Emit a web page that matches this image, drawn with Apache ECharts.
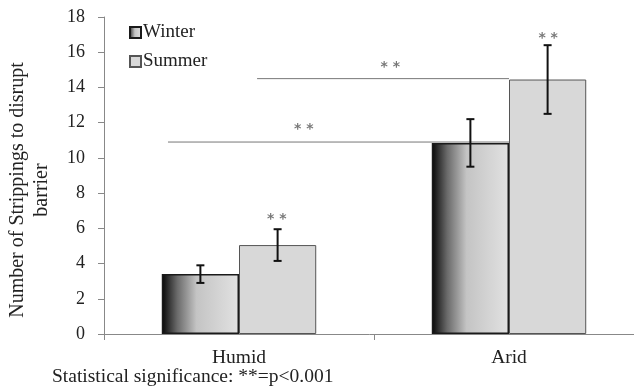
<!DOCTYPE html>
<html>
<head>
<meta charset="utf-8">
<script src="https://cdn.jsdelivr.net/npm/echarts@6/dist/echarts.min.js"></script>
<style>
  html, body { margin: 0; padding: 0; background: #fff; }
  #chart { width: 634px; height: 389px; }
</style>
</head>
<body>
<div id="chart"></div>
<script>
var categories = ["Humid", "Arid"];
var winter = [3.4, 10.85];
var summer = [5.05, 14.45];
var winterErr = [0.5, 1.35];
var summerErr = [0.9, 1.95];
// significance brackets on a hidden 0..2 x scale: [xStart, xEnd, y]
var sigLines = [[0.237, 1.5, 10.9], [0.567, 1.5, 14.5]];
// "**" marks: [x, y]
var stars = [[0.64, 6.5], [1.645, 16.8], [0.74, 11.6], [1.06, 15.15]];

var serif = "Liberation Serif";
var winterFill = {
  type: "linear", x: 0, y: 0, x2: 1, y2: 0,
  colorStops: [
    { offset: 0, color: "#050505" },
    { offset: 0.2, color: "#6a6a6a" },
    { offset: 0.45, color: "#c4c4c4" },
    { offset: 1, color: "#e2e2e2" }
  ]
};

var chart = echarts.init(document.getElementById("chart"));

function errBars(vals, errs, side) {
  return {
    type: "custom",
    xAxisIndex: 0,
    yAxisIndex: 0,
    z: 5,
    data: vals.map(function (v, i) { return [i, v, errs[i]]; }),
    renderItem: function (params, api) {
      var i = api.value(0), v = api.value(1), e = api.value(2);
      var band = api.size([1, 0])[0];
      var dx = side * band * 0.143;
      var hi = api.coord([i, v + e]);
      var lo = api.coord([i, v - e]);
      var x = hi[0] + dx;
      var cap = 4;
      var st = { stroke: "#111", lineWidth: 2 };
      return {
        type: "group",
        children: [
          { type: "line", shape: { x1: x, y1: hi[1], x2: x, y2: lo[1] }, style: st },
          { type: "line", shape: { x1: x - cap, y1: hi[1], x2: x + cap, y2: hi[1] }, style: st },
          { type: "line", shape: { x1: x - cap, y1: lo[1], x2: x + cap, y2: lo[1] }, style: st }
        ]
      };
    }
  };
}

var sigSeries = sigLines.map(function (l) {
  return {
    type: "line",
    xAxisIndex: 1,
    yAxisIndex: 0,
    symbol: "none",
    silent: true,
    z: 1,
    lineStyle: { color: "#777", width: 1 },
    data: [[l[0], l[2]], [l[1], l[2]]]
  };
});

chart.setOption({
  animation: false,
  backgroundColor: "#fff",
  grid: { left: 104, top: 17, width: 540, height: 317, outerBoundsMode: "none", containLabel: false },
  legend: {
    orient: "vertical",
    left: 124,
    top: 18,
    icon: "rect",
    itemWidth: 11,
    itemHeight: 11,
    itemGap: 10,
    data: ["Winter", "Summer"],
    textStyle: { fontFamily: serif, fontSize: 19, color: "#222", padding: [0, 0, 0, -3] }
  },
  xAxis: [
    {
      type: "category",
      data: categories,
      axisLine: { lineStyle: { color: "#888", width: 1 } },
      axisTick: { show: true, length: 6, lineStyle: { color: "#888" } },
      axisLabel: { fontFamily: serif, fontSize: 19.5, color: "#222", margin: 14 }
    },
    {
      type: "value",
      min: 0,
      max: 2,
      show: false
    }
  ],
  yAxis: {
    type: "value",
    min: 0,
    max: 18,
    interval: 2,
    axisLine: { show: true, lineStyle: { color: "#888", width: 1 } },
    axisTick: { show: true, length: 6, lineStyle: { color: "#888" } },
    axisLabel: { fontFamily: serif, fontSize: 18, color: "#222", margin: 19 },
    splitLine: { show: false }
  },
  series: sigSeries.concat([
    {
      name: "Winter",
      type: "bar",
      barWidth: "28.6%",
      barGap: "0%",
      z: 2,
      itemStyle: { color: winterFill, borderColor: "#1a1a1a", borderWidth: 1.5 },
      data: winter
    },
    {
      name: "Summer",
      type: "bar",
      barWidth: "28.6%",
      barGap: "0%",
      z: 2,
      itemStyle: { color: "#d8d8d8", borderColor: "#555", borderWidth: 1 },
      data: summer
    },
    errBars(winter, winterErr, -1),
    errBars(summer, summerErr, 1),
    {
      type: "scatter",
      xAxisIndex: 1,
      yAxisIndex: 0,
      symbolSize: 0,
      silent: true,
      z: 6,
      label: {
        show: true,
        position: "inside",
        formatter: "* *",
        fontFamily: "DejaVu Sans",
        fontSize: 14,
        fontWeight: "bold",
        color: "#555"
      },
      data: stars
    }
  ]),
  graphic: [
    {
      type: "text",
      x: 30,
      y: 190,
      rotation: Math.PI / 2,
      style: {
        text: "Number of Strippings to disrupt\nbarrier",
        fontFamily: serif,
        fontSize: 20,
        lineHeight: 24,
        fill: "#222",
        align: "center",
        verticalAlign: "middle"
      }
    },
    {
      type: "text",
      left: 52,
      top: 367,
      style: {
        text: "Statistical significance: **=p<0.001",
        fontFamily: serif,
        fontSize: 19.5,
        fill: "#222"
      }
    }
  ]
});
</script>
</body>
</html>
